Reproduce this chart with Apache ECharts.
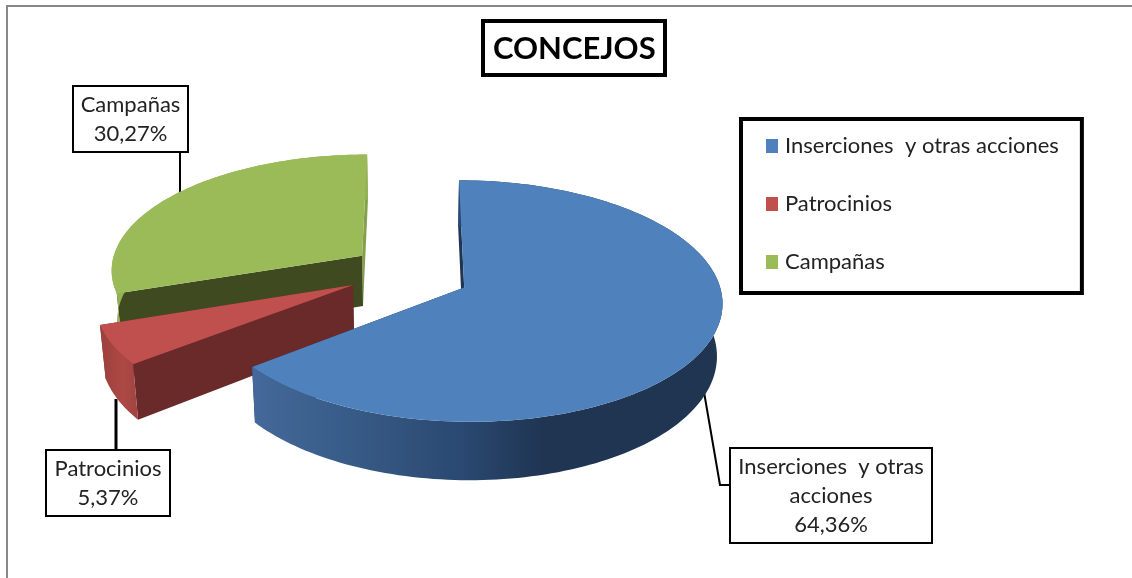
<!DOCTYPE html>
<html>
<head>
<meta charset="utf-8">
<style>
  html, body { margin: 0; background: #fff; }
  #myChart { width: 1132px; height: 578px; }
</style>
<script src="https://cdn.jsdelivr.net/npm/echarts@6/dist/echarts.min.js"></script>
</head>
<body>
<div id="myChart"></div>
<script>
// datos
const categories = ['Inserciones  y otras acciones', 'Patrocinios', 'Campañas']
const shares = [64.36, 5.37, 30.27]
const labelLines = [['Inserciones  y otras', 'acciones'], ['Patrocinios'], ['Campañas']]

const FONT = 'Lato, "Open Sans", sans-serif'
const topColors = ['#4f81bd', '#c0504d', '#9bbb59']
const sideColors = ['#1f3552', '#6b2a2a', '#3f4a20']
// pared del final de cada porcion (en campañas apenas asoma, mas clara)
const endWallColors = ['#1f3552', '#6b2a2a', '#84a04c']
const gradient = (stops) => new echarts.graphic.LinearGradient(0, 0, 1, 0, stops)
const rimFills = [
  () => gradient([
    { offset: 0, color: '#44699a' },
    { offset: 0.2, color: '#385c88' },
    { offset: 0.45, color: '#2a4870' },
    { offset: 0.62, color: '#1f3552' },
    { offset: 1, color: '#1f3552' }
  ]),
  () => gradient([
    { offset: 0, color: '#9c3f3c' },
    { offset: 0.6, color: '#ad4945' },
    { offset: 1, color: '#a04340' }
  ]),
  () => '#93b254'
]

// proyeccion en perspectiva del disco (el radio vale 1)
const view = { cx: 413, horizon: -770, plane: 1041, radius: 252, persp: 0.111, depth: 51, lean: 0.018 }
const explode = [[0.2, -0.14], [-0.235, -0.12], [-0.205, 0.135]]
const labelBoxes = [
  { x: 730, y: 448, w: 202, h: 95, lineW: 2, leader: [[704, 392], [720, 485], [730, 485]] },
  { x: 46, y: 450, w: 124, h: 66, lineW: 3, leader: [[116, 399], [116, 450]] },
  { x: 73, y: 86, w: 115, h: 66, lineW: 2, leader: [[180, 152], [180, 196]] }
]

function project(X, Y, z) {
  const w = 1 + view.persp * Y
  return [
    view.cx + X * view.radius / w * (1 - z * view.lean),
    view.horizon + (view.plane + z * view.depth) / w
  ]
}

function sliceAngles(index) {
  const total = shares.reduce((a, b) => a + b, 0)
  let start = 0
  for (let i = 0; i < index; i++) start += shares[i]
  return [start / total * 2 * Math.PI, (start + shares[index]) / total * 2 * Math.PI]
}

function rimPoint(index, angle, z) {
  return project(explode[index][0] + Math.sin(angle), explode[index][1] + Math.cos(angle), z)
}

function renderSlice(index) {
  const [a0, a1] = sliceAngles(index)
  const apex = (z) => project(explode[index][0], explode[index][1], z)
  const rimTop = []
  const rimBottom = []
  const steps = Math.max(8, Math.round((a1 - a0) * 40))
  for (let s = 0; s <= steps; s++) {
    const a = a0 + (a1 - a0) * s / steps
    rimTop.push(rimPoint(index, a, 0))
    rimBottom.push(rimPoint(index, a, 1))
  }
  const poly = (points, fill) => ({ type: 'polygon', silent: true, shape: { points }, style: { fill } })
  const wall = (a, fill) => poly([apex(0), rimPoint(index, a, 0), rimPoint(index, a, 1), apex(1)], fill)

  const box = labelBoxes[index]
  const lines = labelLines[index].concat(shares[index].toFixed(2).replace('.', ',') + '%')
  const lineH = 29
  const firstY = box.y + box.h / 2 - (lines.length - 1) * lineH / 2
  const children = [
    { type: 'polyline', silent: true, shape: { points: box.leader }, style: { stroke: '#000', lineWidth: box.lineW, fill: null } },
    wall(a1, endWallColors[index]),
    wall(a0, sideColors[index]),
    poly(rimTop.concat(rimBottom.slice().reverse()), rimFills[index]()),
    poly([apex(0)].concat(rimTop), topColors[index]),
    {
      type: 'rect',
      silent: true,
      shape: { x: box.x, y: box.y, width: box.w, height: box.h },
      style: { fill: '#fff', stroke: '#000', lineWidth: 2 }
    }
  ]
  lines.forEach((text, i) => {
    children.push({
      type: 'text',
      silent: true,
      style: {
        x: box.x + box.w / 2,
        y: firstY + i * lineH,
        text,
        align: 'center',
        verticalAlign: 'middle',
        fill: '#222',
        fontSize: 22,
        fontFamily: FONT
      }
    })
  })
  return { type: 'group', children }
}

// se pinta de atras hacia delante: campañas, patrocinios, inserciones
const drawOrder = [2, 1, 0]

const myChart = echarts.init(document.getElementById('myChart'))
myChart.setOption({
  animation: false,
  backgroundColor: '#fff',
  title: {
    text: 'CONCEJOS',
    left: 483,
    top: 21,
    padding: [12, 10, 11, 10],
    borderColor: '#000',
    borderWidth: 4,
    backgroundColor: '#fff',
    textStyle: { color: '#000', fontSize: 31, fontWeight: 'bold', fontFamily: FONT }
  },
  legend: {
    left: 741,
    top: 119,
    orient: 'vertical',
    data: categories,
    icon: 'rect',
    itemWidth: 12,
    itemHeight: 14,
    itemGap: 36,
    padding: [16, 23, 20, 25],
    borderColor: '#000',
    borderWidth: 4,
    selectedMode: false,
    textStyle: { color: '#222', fontSize: 22, fontFamily: FONT, padding: [0, 0, 0, 2] }
  },
  graphic: [{
    type: 'rect',
    silent: true,
    shape: { x: 7, y: 6, width: 1300, height: 800 },
    style: { fill: null, stroke: '#888', lineWidth: 2 }
  }],
  series: drawOrder.map((i) => ({
    type: 'custom',
    name: categories[i],
    coordinateSystem: 'none',
    itemStyle: { color: topColors[i] },
    data: [[shares[i]]],
    renderItem: () => renderSlice(i)
  }))
})
</script>
</body>
</html>
